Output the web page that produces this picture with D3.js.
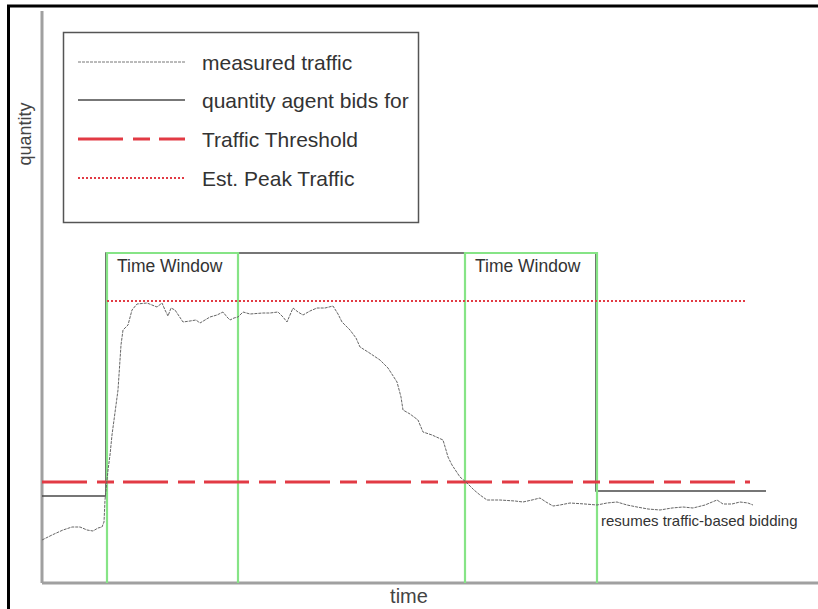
<!DOCTYPE html>
<html>
<head>
<meta charset="utf-8">
<script src="https://cdn.jsdelivr.net/npm/d3@7"></script>
<style>
  html, body { margin: 0; padding: 0; background: #fff; }
  svg { display: block; font-family: "Liberation Sans", Arial, sans-serif; }
</style>
</head>
<body>
<svg id="chart" width="818" height="609"></svg>
<script>
// ---- data (time units / quantity units) ----
const trafficTime = [0,10,21,30,38,45,51,56,60,62,63,65,66,68,70,76,79,81,86,90,95,105,110,115,120,123,126,129,133,137,141,148,154,158,163,168,175,181,185,188,192,196,201,208,221,228,236,241,245,248,251,256,261,268,275,283,291,296,300,308,314,318,326,338,346,355,359,361,368,376,381,390,401,404,406,410,418,425,432,438,445,458,473,481,490,498,504,511,518,528,543,555,565,575,585,595,606,618,630,641,651,663,675,681,690,698,706,711];
const trafficValue = [43,48,53,56,56,53,52,55,56,61,83,103,113,128,148,193,238,253,258,273,279,280,278,276,280,273,267,275,273,267,261,262,263,260,263,266,268,271,266,263,265,266,271,269,270,270,271,266,261,268,275,271,268,272,275,275,277,269,261,253,245,236,231,223,215,201,186,173,169,163,151,148,143,133,126,118,106,100,93,88,83,83,82,81,83,85,81,77,78,80,79,78,80,81,78,76,74,73,75,76,75,78,83,79,79,81,80,78];
const bidTime = [0, 64, 554, 724];
const bidValue = [87, 330, 92, 92];
const windowStart = [65, 423];
const windowEnd = [196, 555];
const windowTop = 330;
const thresholdValue = 101;
const thresholdSpan = [0, 708];
const peakValue = 282;
const peakSpan = [65, 704];
const legendLabels = ["measured traffic", "quantity agent bids for", "Traffic Threshold", "Est. Peak Traffic"];
const windowLabel = "Time Window";
const annotationText = "resumes traffic-based bidding";
const annotationTime = 560;
const annotationValue = 57;
const xLabel = "time";
const yLabel = "quantity";

// ---- setup ----
const svg = d3.select("#chart");
const x = d3.scaleLinear().domain([0, 776]).range([42, 818]);
const y = d3.scaleLinear().domain([0, 571]).range([583, 12]);

const GREEN = "#86e486";
const RED = "#e23a44";
const AXIS = "#a0a0a0";
const DARK = "#4a4a4a";

// outer black frame (top & left visible)
svg.append("path").attr("d", "M8.5,609 V6 H818").attr("fill", "none")
  .attr("stroke", "#000").attr("stroke-width", 3);

// axes
const xAxis = d3.axisBottom(x).tickValues([]).tickSizeOuter(0);
const yAxis = d3.axisLeft(y).tickValues([]).tickSizeOuter(0);
const gx = svg.append("g").attr("transform", `translate(0,${y(0)})`).call(xAxis);
const gy = svg.append("g").attr("transform", `translate(${x(0)},0)`).call(yAxis);
[gx, gy].forEach(g => g.select(".domain").attr("stroke", AXIS).attr("stroke-width", 3));
gx.select(".domain").attr("d", `M${x(0)},0H818`);
gy.select(".domain").attr("d", `M0,${y(0)}V11`);

svg.append("text").attr("x", 409).attr("y", 603).attr("text-anchor", "middle")
  .attr("font-size", 20).attr("fill", "#444").text(xLabel);
svg.append("text").attr("transform", "translate(31,134) rotate(-90)").attr("text-anchor", "middle")
  .attr("font-size", 18).attr("fill", "#444").text(yLabel);

// quantity agent bids for (step line)
const bidData = bidTime.map((t, i) => [t, bidValue[i]]);
svg.append("path").datum(bidData)
  .attr("d", d3.line().x(d => x(d[0])).y(d => y(d[1])).curve(d3.curveStepAfter))
  .attr("fill", "none").attr("stroke", DARK).attr("stroke-width", 1.6);

// time windows (green)
windowStart.forEach((s, i) => {
  const e = windowEnd[i];
  svg.append("path")
    .attr("d", `M${x(s)},${y(0)} V${y(windowTop)} H${x(e)} V${y(0)}`)
    .attr("fill", "none").attr("stroke", GREEN).attr("stroke-width", 2.2);
  svg.append("text").attr("x", x(s) + 10).attr("y", y(windowTop) + 19)
    .attr("font-size", 17.5).attr("fill", "#333").text(windowLabel);
});

// est. peak traffic (red dotted)
svg.append("line").attr("x1", x(peakSpan[0])).attr("x2", x(peakSpan[1]))
  .attr("y1", y(peakValue)).attr("y2", y(peakValue))
  .attr("stroke", RED).attr("stroke-width", 2).attr("stroke-dasharray", "2,2");

// traffic threshold (red dashed)
svg.append("line").attr("x1", x(thresholdSpan[0])).attr("x2", x(thresholdSpan[1]))
  .attr("y1", y(thresholdValue)).attr("y2", y(thresholdValue))
  .attr("stroke", RED).attr("stroke-width", 3).attr("stroke-dasharray", "45,10,17,9");

// measured traffic
const trafficData = trafficTime.map((t, i) => [t, trafficValue[i]]);
svg.append("path").datum(trafficData)
  .attr("d", d3.line().x(d => x(d[0])).y(d => y(d[1])))
  .attr("fill", "none").attr("stroke", "#666").attr("stroke-width", 1)
  .attr("stroke-dasharray", "3,1");

// annotation
svg.append("text").attr("x", x(annotationTime) - 1).attr("y", y(annotationValue))
  .attr("font-size", 15).attr("fill", "#333").text(annotationText);

// legend
const lg = svg.append("g");
lg.append("rect").attr("x", 63.5).attr("y", 32.5).attr("width", 355).attr("height", 190)
  .attr("fill", "#fff").attr("stroke", "#555").attr("stroke-width", 1.5);
const legendY = [62, 100, 139, 178];
const legendStyles = [
  {stroke: "#777", width: 1, dash: "3,1"},
  {stroke: DARK, width: 1.6, dash: null},
  {stroke: RED, width: 3, dash: "45,10,17,9"},
  {stroke: RED, width: 2, dash: "2,2"}
];
legendLabels.forEach((lab, i) => {
  const st = legendStyles[i];
  lg.append("line").attr("x1", 78).attr("x2", 185).attr("y1", legendY[i]).attr("y2", legendY[i])
    .attr("stroke", st.stroke).attr("stroke-width", st.width)
    .attr("stroke-dasharray", st.dash);
  lg.append("text").attr("x", 202).attr("y", legendY[i] + 8)
    .attr("font-size", 21).attr("fill", "#333").text(lab);
});
</script>
</body>
</html>
